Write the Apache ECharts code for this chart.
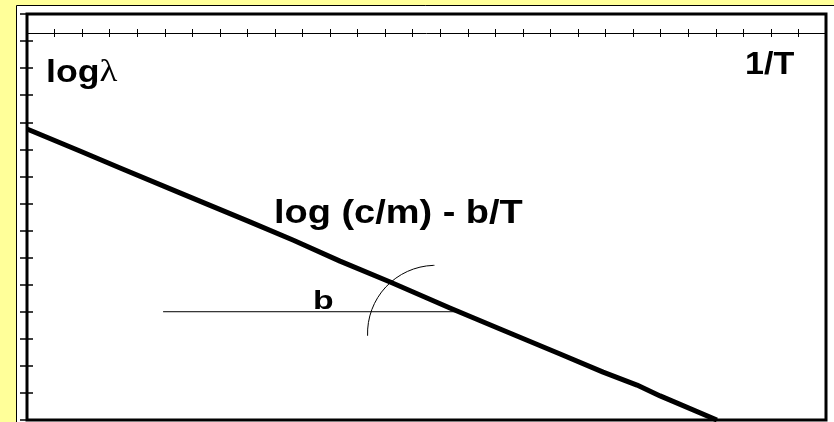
<!DOCTYPE html>
<html><head><meta charset="utf-8">
<script src="https://cdn.jsdelivr.net/npm/echarts@6/dist/echarts.min.js"></script>
<style>html,body{margin:0;padding:0;background:#ffff99;}#chart{width:834px;height:422px;}</style>
</head><body><div id="chart"></div>
<script>
// Axis extents in tick steps: 1/T across, log λ up
const xRange = [0, 29];
const yRange = [0, 15];
// log λ = log(c/m) - b/T
const lineX = [0, 1.92, 3.38, 5.55, 8.09, 9.65, 11.36, 13.18, 15.35, 17.17, 19.35, 20.91, 22.14, 22.98, 25.04];
const lineY = [10.75, 9.94, 9.31, 8.39, 7.32, 6.65, 5.87, 5.10, 4.14, 3.36, 2.44, 1.77, 1.29, 0.89, 0];
// horizontal reference for the slope angle b
const baseX = [4.94, 15.61];
const baseY = [4, 4];
// angle arc: centre, radius (x units), start/end angle (deg)
const arcCenter = [14.83, 3.2];
const arcRadius = 2.47;
const arcAngles = [178, 269];

const FONT = 'Liberation Sans, Arial, sans-serif';
const chart = echarts.init(document.getElementById('chart'));

const zip = (xs, ys) => xs.map((x, i) => [x, ys[i]]);

const tickStyle = { color: '#000', width: 1 };
const baseAxis = {
  type: 'value', interval: 1, splitLine: { show: false }, axisLabel: { show: false }
};

// bold labels, drawn slightly wide
function label(text, x, y, size, sx, rich) {
  return {
    type: 'text', z: 100, x: x, y: y, scaleX: sx, silent: true,
    style: Object.assign({
      text: text, font: 'bold ' + size + 'px ' + FONT, fill: '#000',
      verticalAlign: 'top', align: 'left'
    }, rich ? { rich: rich } : {})
  };
}

chart.setOption({
  backgroundColor: '#ffff99',
  animation: false,
  grid: {
    left: 27, right: 8, top: 14, bottom: 2,
    show: true, backgroundColor: '#fff', borderColor: '#000', borderWidth: 3
  },
  xAxis: [
    Object.assign({}, baseAxis, {
      min: xRange[0], max: xRange[1], position: 'top', offset: -19,
      axisLine: { show: true, onZero: false, lineStyle: { color: '#000', width: 1 } },
      axisTick: { show: true, inside: true, length: 4, lineStyle: tickStyle }
    }),
    Object.assign({}, baseAxis, {
      min: xRange[0], max: xRange[1], position: 'top', offset: -19,
      axisLine: { show: false, onZero: false },
      axisTick: { show: true, inside: false, length: 4, lineStyle: tickStyle }
    })
  ],
  yAxis: [
    Object.assign({}, baseAxis, {
      min: yRange[0], max: yRange[1], position: 'left',
      axisLine: { show: false, onZero: false },
      axisTick: { show: true, inside: true, length: 6, lineStyle: { color: '#000', width: 1.5 } }
    }),
    Object.assign({}, baseAxis, {
      min: yRange[0], max: yRange[1], position: 'left',
      axisLine: { show: false, onZero: false },
      axisTick: { show: true, inside: false, length: 7, lineStyle: { color: '#000', width: 1.5 } }
    })
  ],
  graphic: [
    { type: 'rect', z: -10, silent: true,
      shape: { x: 16.5, y: 5.5, width: 900, height: 500 },
      style: { fill: '#fff', stroke: '#000', lineWidth: 1 } },
    label('{a|log}{b|λ}', 46, 57, 31, 1.15, {
      a: { font: 'bold 31px ' + FONT, fill: '#000' },
      b: { font: '32px Liberation Serif, serif', fill: '#000' }
    }),
    label('1/T', 745, 50, 31, 1.1),
    label('log (c/m) - b/T', 274, 197, 33, 1.15),
    label('b', 313, 289, 26, 1.3)
  ],
  series: [
    { type: 'line', xAxisIndex: 0, yAxisIndex: 0, data: zip(lineX, lineY),
      showSymbol: false, symbol: 'none', smooth: false,
      lineStyle: { color: '#000', width: 5, join: 'round' } },
    { type: 'line', xAxisIndex: 0, yAxisIndex: 0, data: zip(baseX, baseY),
      showSymbol: false, symbol: 'none',
      lineStyle: { color: '#000', width: 1 } },
    { type: 'custom', xAxisIndex: 0, yAxisIndex: 0, clip: false,
      data: [[arcCenter[0], arcCenter[1], arcRadius]],
      renderItem: function (params, api) {
        const c = api.coord([api.value(0), api.value(1)]);
        const r = api.size([api.value(2), 0])[0];
        return {
          type: 'arc',
          shape: { cx: c[0], cy: c[1], r: r,
            startAngle: arcAngles[0] * Math.PI / 180,
            endAngle: arcAngles[1] * Math.PI / 180, clockwise: true },
          style: { stroke: '#000', fill: 'none', lineWidth: 1 }
        };
      } }
  ]
});
</script></body></html>
